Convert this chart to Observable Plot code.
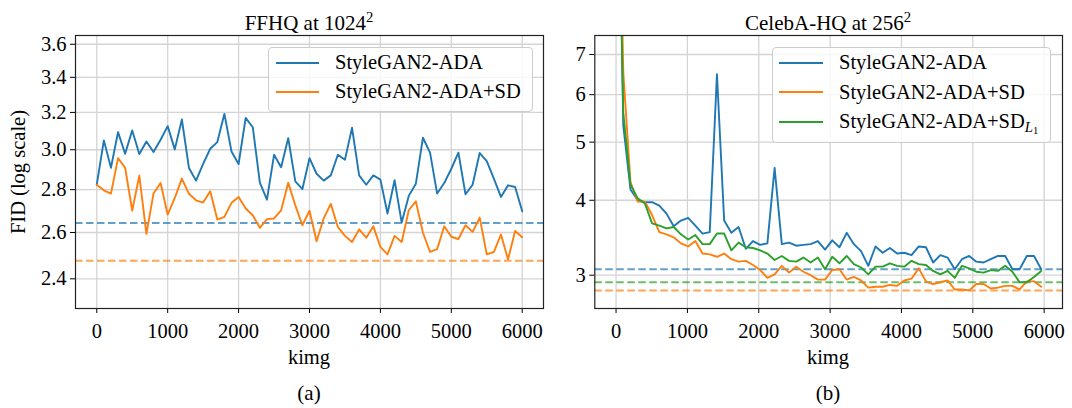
<!DOCTYPE html>
<html><head><meta charset="utf-8">
<script src="https://cdn.jsdelivr.net/npm/d3@7"></script>
<script src="https://cdn.jsdelivr.net/npm/@observablehq/plot@0.6"></script>
<style>
body{margin:0;background:#fff;}
#fig{position:relative;width:1072px;height:408px;font-family:"Liberation Serif","Times New Roman",serif;color:#000;overflow:hidden;background:#fff}
.abs{position:absolute;white-space:nowrap;line-height:1;}
.leg{position:absolute;border:1px solid #cccccc;border-radius:4px;background:rgba(255,255,255,0.8);box-sizing:border-box}
sup{font-size:0.7em;vertical-align:0;position:relative;top:-0.5em}
</style></head><body><div id="fig"></div>
<script>
// ---------------- data ----------------
const seriesNames = ["StyleGAN2-ADA", "StyleGAN2-ADA+SD", "StyleGAN2-ADA+SD_L1"];
const seriesColors = ["#1f77b4", "#ff7f0e", "#2ca02c"];
const xTicks = [0, 1000, 2000, 3000, 4000, 5000, 6000];
const ffhqTicks = [2.4, 2.6, 2.8, 3.0, 3.2, 3.4, 3.6];
const celebTicks = [3, 4, 5, 6, 7];

// (a) FFHQ at 1024^2
const kimgA = [0,100,200,300,400,500,600,700,800,900,1000,1100,1200,1300,1400,1500,1600,1700,1800,1900,2000,2100,2200,2300,2400,2500,2600,2700,2800,2900,3000,3100,3200,3300,3400,3500,3600,3700,3800,3900,4000,4100,4200,4300,4400,4500,4600,4700,4800,4900,5000,5100,5200,5300,5400,5500,5600,5700,5800,5900,6000];
const ffhqBase = [2.824,3.049,2.908,3.093,2.979,3.102,2.978,3.043,2.988,3.052,3.125,3.002,3.161,2.907,2.844,2.928,3.005,3.040,3.192,2.991,2.927,3.170,3.119,2.834,2.752,2.974,2.911,3.061,2.840,2.803,2.957,2.878,2.844,2.870,2.974,2.949,3.116,2.870,2.824,2.870,2.849,2.687,2.846,2.645,2.770,2.829,3.063,2.985,2.781,2.832,2.903,2.985,2.778,2.824,2.983,2.942,2.854,2.765,2.821,2.813,2.697];
const ffhqSD = [2.824,2.797,2.781,2.957,2.908,2.700,2.869,2.594,2.781,2.832,2.682,2.760,2.854,2.780,2.749,2.738,2.792,2.659,2.671,2.737,2.765,2.710,2.679,2.621,2.661,2.664,2.702,2.834,2.725,2.633,2.700,2.561,2.664,2.732,2.625,2.585,2.558,2.614,2.577,2.628,2.536,2.504,2.585,2.558,2.702,2.744,2.599,2.514,2.526,2.628,2.581,2.571,2.633,2.603,2.668,2.504,2.514,2.591,2.482,2.607,2.579];
const ffhqRef = [2.643, 2.476]; // dashed reference levels (base, +SD)

// (b) CelebA-HQ at 256^2
const kimgB = [0,101,202,303,404,505,606,707,808,909,1010,1111,1212,1313,1414,1515,1616,1717,1818,1919,2020,2121,2222,2323,2424,2525,2626,2727,2828,2929,3030,3131,3232,3333,3434,3535,3636,3737,3838,3939,4040,4141,4242,4343,4444,4545,4646,4747,4848,4949,5050,5151,5252,5353,5454,5555,5656,5757,5858,5959];
const celebBase = [30,5.33,4.17,4.00,3.97,3.97,3.92,3.80,3.62,3.70,3.74,3.63,3.52,3.54,6.49,3.70,3.53,3.61,3.32,3.42,3.37,3.39,4.53,3.38,3.40,3.36,3.37,3.38,3.42,3.31,3.43,3.34,3.53,3.38,3.29,3.11,3.35,3.27,3.33,3.26,3.27,3.24,3.35,3.34,3.15,3.24,3.21,3.07,3.19,3.23,3.16,3.15,3.19,3.23,3.23,3.07,3.07,3.23,3.23,3.07];
const celebSD = [25,6.55,4.29,3.98,3.98,3.78,3.54,3.51,3.47,3.39,3.35,3.42,3.26,3.25,3.22,3.26,3.19,3.16,3.17,3.12,3.06,2.97,3.01,3.11,3.03,3.10,3.04,3.00,2.95,2.95,3.06,3.07,2.95,2.98,2.94,2.86,2.87,2.87,2.89,2.88,2.94,2.96,3.08,2.93,2.90,2.92,2.94,2.84,2.84,2.83,2.90,2.90,2.85,2.86,2.88,2.88,2.84,2.93,2.93,2.87];
const celebSDL1 = [22,5.6,4.25,4.03,3.95,3.66,3.63,3.59,3.61,3.51,3.44,3.50,3.38,3.38,3.52,3.52,3.30,3.40,3.34,3.33,3.30,3.26,3.18,3.23,3.17,3.16,3.21,3.15,3.21,3.07,3.22,3.14,3.23,3.13,3.09,3.01,3.10,3.10,3.14,3.11,3.10,3.17,3.13,3.12,3.05,3.01,3.05,2.97,3.11,3.08,3.04,3.03,3.06,3.05,3.11,3.04,2.92,2.92,2.98,3.05];
const celebRef = [3.07, 2.83, 2.92]; // dashed reference levels (base, +SD, +SD_L1)

// ---------------- drawing ----------------
const fig = document.getElementById("fig");
const FONT = "Liberation Serif, Times New Roman, serif";
const tidy = (xs, ys) => xs.map((k, i) => ({k, fid: ys[i]}));

function panel(opts) {
  const {left, width, mL, mR, xDomain, yDomain, yTicks, yFmt, series, refs} = opts;
  const marks = [
    Plot.gridX(xTicks, {stroke: "#d4d4d4", strokeOpacity: 1, strokeWidth: 1.3}),
    Plot.gridY(yTicks, {stroke: "#d4d4d4", strokeOpacity: 1, strokeWidth: 1.3}),
  ];
  refs.forEach((v, i) => marks.push(Plot.ruleY([v], {stroke: seriesColors[i], strokeOpacity: 0.7, strokeWidth: 2, strokeDasharray: "7.5,3.5"})));
  series.forEach((ys, i) => marks.push(Plot.line(tidy(opts.kimg, ys), {x: "k", y: "fid", stroke: seriesColors[i], strokeWidth: 1.9, clip: true})));
  marks.push(Plot.frame({stroke: "#222", strokeWidth: 1.2}));
  const svg = Plot.plot({
    width, height: 380,
    marginLeft: mL, marginRight: mR, marginTop: 35, marginBottom: 72,
    style: {fontFamily: FONT, fontSize: "20.5px", background: "transparent", color: "#000"},
    x: {domain: xDomain, ticks: xTicks, tickFormat: d => String(d), tickSize: 5, tickPadding: 10, label: null},
    y: {type: "log", domain: yDomain, ticks: yTicks, tickFormat: yFmt, tickSize: 5, tickPadding: 4, label: null},
    marks
  });
  svg.style.position = "absolute";
  svg.style.left = left + "px";
  svg.style.top = "0px";
  fig.appendChild(svg);
}

panel({left: 0, width: 550, mL: 75, mR: 7, xDomain: [-300, 6300], yDomain: [2.28, 3.655],
  yTicks: ffhqTicks, yFmt: d3.format(".1f"), kimg: kimgA, series: [ffhqBase, ffhqSD], refs: ffhqRef});
panel({left: 540, width: 532, mL: 54.3, mR: 10, xDomain: [-298, 6257], yDomain: [2.64, 7.53],
  yTicks: celebTicks, yFmt: d => String(d), kimg: kimgB, series: [celebBase, celebSD, celebSDL1], refs: celebRef});

function text(html, cx, top, size, extra) {
  const d = document.createElement("div");
  d.className = "abs";
  d.style.fontSize = size + "px";
  d.style.left = (cx - 200) + "px";
  d.style.width = "400px";
  d.style.textAlign = "center";
  d.style.top = top + "px";
  if (extra) Object.assign(d.style, extra);
  d.innerHTML = html;
  fig.appendChild(d);
  return d;
}
// titles
text("FFHQ at 1024<sup>2</sup>", 309, 12.5, 21);
text("CelebA-HQ at 256<sup>2</sup>", 828, 12.5, 21);
// x labels
text("kimg", 309, 347, 20.5);
text("kimg", 828, 347, 20.5);
// panel labels
text("(a)", 309, 382.5, 21);
text("(b)", 828, 382.5, 21);
// y label
const yl = document.createElement("div");
yl.className = "abs";
yl.style.fontSize = "20.5px";
yl.style.left = "18px"; yl.style.top = "172px";
yl.style.transform = "translate(-50%,-50%) rotate(-90deg)";
yl.textContent = "FID (log scale)";
fig.appendChild(yl);

// legends
function legend(box, lineX, textX, rows, n) {
  const b = document.createElement("div");
  b.className = "leg";
  Object.assign(b.style, {left: box[0] + "px", top: box[1] + "px", width: (box[2] - box[0]) + "px", height: (box[3] - box[1]) + "px"});
  fig.appendChild(b);
  for (let i = 0; i < n; i++) {
    const sw = document.createElement("div");
    Object.assign(sw.style, {position: "absolute", left: lineX[0] + "px", width: (lineX[1] - lineX[0]) + "px",
      top: (rows[i] - 1) + "px", height: "2px", background: seriesColors[i]});
    fig.appendChild(sw);
    const t = document.createElement("div");
    t.className = "abs";
    Object.assign(t.style, {left: textX + "px", top: (rows[i] - 10.5) + "px", fontSize: "20.5px"});
    const name = seriesNames[i];
    if (name.endsWith("_L1")) {
      t.innerHTML = name.replace("_L1", "") +
        "<span style='position:relative;top:0.28em;font-size:0.72em;font-style:italic'>L<span style='position:relative;top:0.2em;font-size:0.72em;font-style:normal'>1</span></span>";
    } else t.textContent = name;
    fig.appendChild(t);
  }
}
legend([268, 47, 533, 112], [276, 319], 335, [62.5, 91.7], 2);
legend([772, 47, 1051, 143], [779, 823], 839, [62.5, 92, 121.7], 3);
</script></body></html>
